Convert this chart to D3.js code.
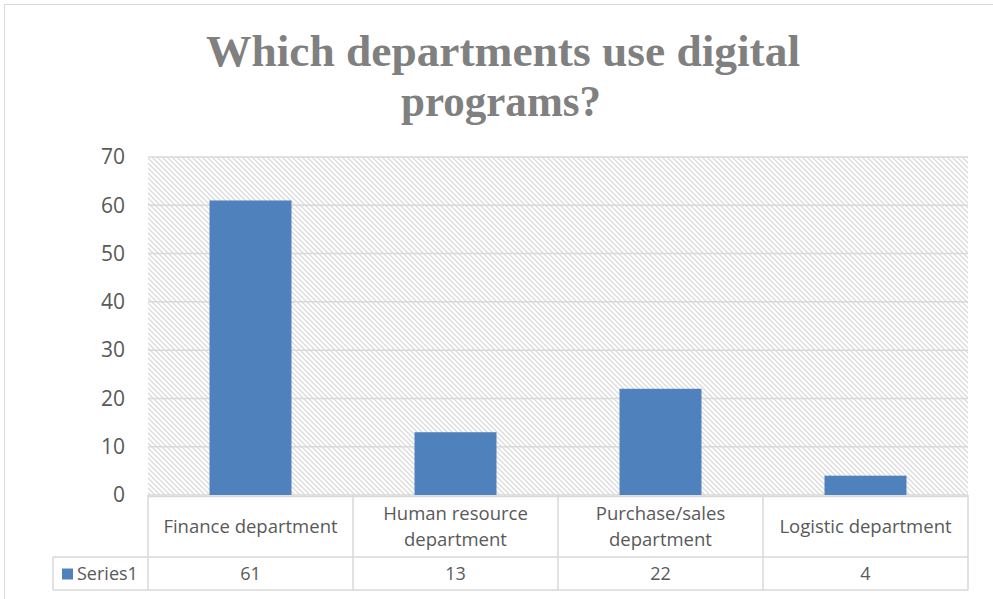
<!DOCTYPE html>
<html lang="en">
<head>
<meta charset="utf-8">
<title>Which departments use digital programs?</title>
<script src="https://cdn.jsdelivr.net/npm/d3@7"></script>
<style>
  body { margin: 0; background: #fff; }
  text { font-family: "Open Sans", "Liberation Sans", sans-serif; }
</style>
</head>
<body>
<script>
// data
var categories = [["Finance department"], ["Human resource", "department"], ["Purchase/sales", "department"], ["Logistic department"]];
var values = [61, 13, 22, 4];
var seriesName = "Series1";
var yTicks = [0, 10, 20, 30, 40, 50, 60, 70];

var W = 993, H = 599;
var plotL = 148, plotR = 968, plotT = 157, plotB = 495;
var rowCat = 557, rowSer = 590, legendLeft = 53;

var svg = d3.select("body").append("svg")
    .attr("width", W).attr("height", H);

// diagonal hatch pattern
var defs = svg.append("defs");
var pat = defs.append("pattern")
    .attr("id", "hatch").attr("patternUnits", "userSpaceOnUse")
    .attr("width", 5).attr("height", 5);
pat.append("rect").attr("width", 5).attr("height", 5).attr("fill", "#fff");
pat.append("path").attr("d", "M-1,-1 L6,6 M-1,4 L1,6 M4,-1 L6,1")
    .attr("stroke", "#dcdcdc").attr("stroke-width", 1.4);

// chart border
svg.append("rect").attr("x", 4.5).attr("y", 4.5).attr("width", 1000).attr("height", 600)
    .attr("fill", "none").attr("stroke", "#d9d9d9");

// title
var title = svg.append("g").attr("font-weight", "bold").attr("fill", "#808080").attr("text-anchor", "middle");
title.append("text").attr("x", 503).attr("y", 66).attr("font-size", 45)
    .attr("textLength", 594).attr("lengthAdjust", "spacingAndGlyphs")
    .style("font-family", "'Liberation Serif', serif")
    .text("Which departments use digital");
title.append("text").attr("x", 501).attr("y", 116).attr("font-size", 45)
    .attr("textLength", 200).attr("lengthAdjust", "spacingAndGlyphs")
    .style("font-family", "'Liberation Serif', serif")
    .text("programs?");

var x = d3.scaleBand().domain(d3.range(values.length)).range([plotL, plotR]).paddingInner(0).paddingOuter(0);
var y = d3.scaleLinear().domain([0, 70]).range([plotB, plotT]);

// plot background
svg.append("rect").attr("x", plotL).attr("y", plotT).attr("width", plotR - plotL).attr("height", plotB - plotT)
    .attr("fill", "url(#hatch)");

// gridlines
svg.append("g").selectAll("line").data(yTicks).enter().append("line")
    .attr("x1", plotL).attr("x2", plotR)
    .attr("y1", function(d) { return y(d); }).attr("y2", function(d) { return y(d); })
    .attr("stroke", "#d9d9d9").attr("stroke-width", 1.5);

// y axis labels
svg.append("g").selectAll("text").data(yTicks).enter().append("text")
    .attr("x", 125).attr("y", function(d) { return y(d); })
    .attr("dy", "0.35em").attr("text-anchor", "end")
    .attr("font-size", 21).attr("fill", "#595959")
    .text(function(d) { return d; });

// bars
var barW = 82;
svg.append("g").selectAll("rect").data(values).enter().append("rect")
    .attr("x", function(d, i) { return x(i) + (x.bandwidth() - barW) / 2; })
    .attr("y", function(d) { return y(d); })
    .attr("width", barW)
    .attr("height", function(d) { return plotB - y(d); })
    .attr("fill", "#4f81bd");

// data table lines
var grid = svg.append("g").attr("stroke", "#d9d9d9").attr("stroke-width", 1.5);
grid.append("line").attr("x1", plotL).attr("x2", plotR).attr("y1", plotB + 1.5).attr("y2", plotB + 1.5);
grid.append("line").attr("x1", legendLeft).attr("x2", plotR).attr("y1", rowCat).attr("y2", rowCat);
grid.append("line").attr("x1", legendLeft).attr("x2", plotR).attr("y1", rowSer).attr("y2", rowSer);
grid.append("line").attr("x1", legendLeft).attr("x2", legendLeft).attr("y1", rowCat).attr("y2", rowSer);
grid.selectAll("line.v").data(d3.range(values.length + 1)).enter().append("line")
    .attr("class", "v")
    .attr("x1", function(i) { return i < values.length ? x(i) : plotR; })
    .attr("x2", function(i) { return i < values.length ? x(i) : plotR; })
    .attr("y1", plotB).attr("y2", rowSer);

// category labels
var catG = svg.append("g").attr("font-size", 18.5).attr("fill", "#595959").attr("text-anchor", "middle");
categories.forEach(function(lines, i) {
    var cx = x(i) + x.bandwidth() / 2;
    var cy = (plotB + rowCat) / 2 + 1;
    lines.forEach(function(s, j) {
        catG.append("text").attr("x", cx)
            .attr("y", cy + (j - (lines.length - 1) / 2) * 26)
            .attr("dy", "0.35em").text(s);
    });
});

// series row
var serY = (rowCat + rowSer) / 2;
svg.append("rect").attr("x", 62).attr("y", serY - 5).attr("width", 11).attr("height", 11).attr("fill", "#4f81bd");
svg.append("text").attr("x", 77).attr("y", serY).attr("dy", "0.35em")
    .attr("font-size", 18).attr("fill", "#595959").text(seriesName);
svg.append("g").selectAll("text").data(values).enter().append("text")
    .attr("x", function(d, i) { return x(i) + x.bandwidth() / 2; })
    .attr("y", serY).attr("dy", "0.35em").attr("text-anchor", "middle")
    .attr("font-size", 18).attr("fill", "#595959")
    .text(function(d) { return d; });
</script>
</body>
</html>
